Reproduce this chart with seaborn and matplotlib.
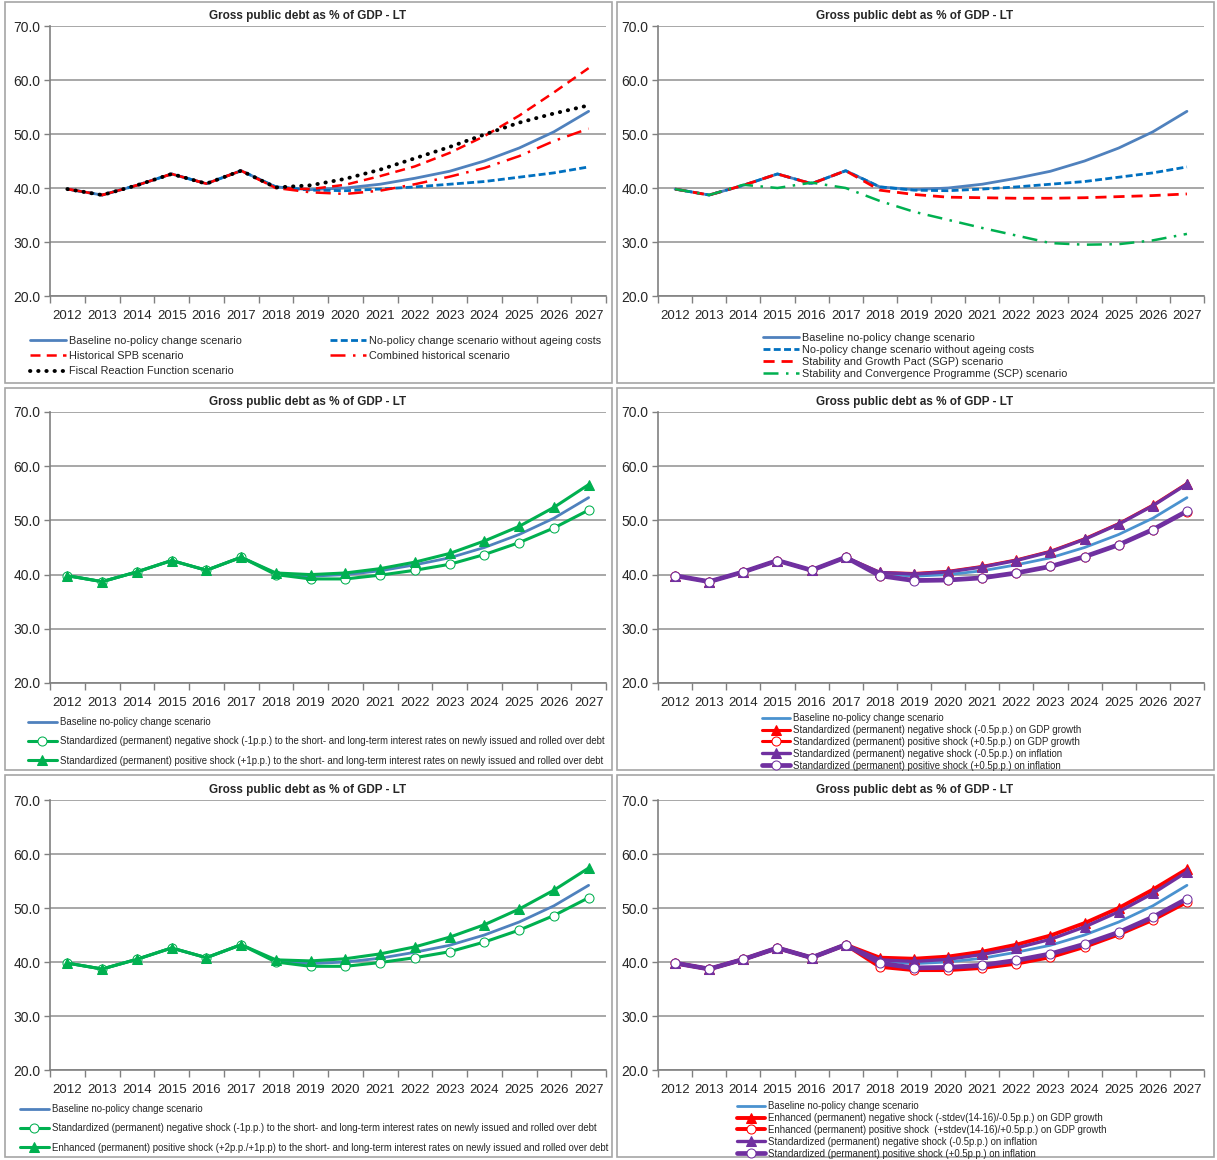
import numpy as np
import matplotlib
matplotlib.use("Agg")
import matplotlib.pyplot as plt
from matplotlib.patches import Rectangle
from matplotlib.ticker import FormatStrFormatter
import seaborn as sns

# %% data
years = list(range(2012, 2028))
title = "Gross public debt as % of GDP - LT"

history = [39.8, 38.7, 40.5, 42.6, 40.8, 43.2]
baseline = history + [40.2, 39.7, 40.0, 40.7, 41.8, 43.1, 45.0, 47.4, 50.4, 54.2]
no_ageing = history + [40.2, 39.6, 39.5, 39.8, 40.2, 40.7, 41.2, 42.0, 42.8, 43.9]
hist_spb = history + [40.0, 39.8, 40.6, 42.2, 44.0, 46.5, 49.6, 53.4, 57.7, 62.2]
combined = history + [40.0, 39.2, 38.9, 39.5, 40.7, 42.1, 43.7, 45.9, 48.7, 51.0]
frf = history + [40.1, 40.5, 41.7, 43.4, 45.5, 47.6, 49.9, 52.1, 53.8, 55.3]
sgp = history + [39.6, 38.8, 38.3, 38.2, 38.1, 38.1, 38.2, 38.4, 38.6, 38.9]
scp = [39.8, 38.7, 40.6, 40.0, 41.0, 40.0, 37.6, 35.6, 34.1, 32.6, 31.2, 29.8, 29.5, 29.6, 30.3, 31.5]

ir_neg = history + [40.0, 39.2, 39.2, 39.9, 40.8, 41.9, 43.7, 45.9, 48.6, 51.9]
ir_pos = history + [40.3, 40.0, 40.3, 41.1, 42.3, 43.9, 46.2, 48.9, 52.4, 56.6]
ir_pos_enh = history + [40.4, 40.2, 40.6, 41.5, 42.8, 44.6, 46.9, 49.8, 53.3, 57.4]

gdp_neg_std = history + [40.4, 40.2, 40.6, 41.5, 42.7, 44.3, 46.6, 49.4, 52.8, 56.8]
gdp_pos_std = history + [39.8, 39.0, 39.0, 39.4, 40.3, 41.5, 43.3, 45.5, 48.3, 51.6]
infl_neg = history + [40.4, 40.1, 40.5, 41.4, 42.6, 44.2, 46.5, 49.3, 52.7, 56.7]
infl_pos = history + [39.8, 38.9, 39.0, 39.4, 40.3, 41.5, 43.3, 45.5, 48.3, 51.7]
gdp_neg_enh = history + [40.8, 40.6, 41.0, 41.9, 43.2, 44.9, 47.2, 50.0, 53.4, 57.2]
gdp_pos_enh = history + [39.1, 38.5, 38.5, 38.9, 39.7, 40.9, 42.8, 45.1, 47.8, 51.1]

lbl_base = "Baseline no-policy change scenario"
lbl_noage = "No-policy change scenario without ageing costs"
lbl_spb = "Historical SPB scenario"
lbl_comb = "Combined historical scenario"
lbl_frf = "Fiscal Reaction Function scenario"
lbl_sgp = "Stability and Growth Pact (SGP) scenario"
lbl_scp = "Stability and Convergence Programme (SCP) scenario"
lbl_ir_neg = "Standardized (permanent) negative shock (-1p.p.) to the short- and long-term interest rates on newly issued and rolled over debt"
lbl_ir_pos = "Standardized (permanent) positive shock (+1p.p.) to the short- and long-term interest rates on newly issued and rolled over debt"
lbl_ir_enh = "Enhanced (permanent) positive shock (+2p.p./+1p.p) to the short- and long-term interest rates on newly issued and rolled over debt"
lbl_gdp_neg = "Standardized (permanent) negative shock (-0.5p.p.) on GDP growth"
lbl_gdp_pos = "Standardized (permanent) positive shock (+0.5p.p.) on GDP growth"
lbl_inf_neg = "Standardized (permanent) negative shock (-0.5p.p.) on inflation"
lbl_inf_pos = "Standardized (permanent) positive shock (+0.5p.p.) on inflation"
lbl_gdp_neg_enh = "Enhanced (permanent) negative shock (-stdev(14-16)/-0.5p.p.) on GDP growth"
lbl_gdp_pos_enh = "Enhanced (permanent) positive shock  (+stdev(14-16)/+0.5p.p.) on GDP growth"

BLUE = "#4F81BD"
BLUE2 = "#4A92CF"
DBLUE = "#0070C0"
RED = "#FF0000"
GREEN = "#00B050"
PURPLE = "#7030A0"

sns.set_theme(style="white")
plt.rcParams['font.family'] = ['Liberation Sans', 'DejaVu Sans']

W, H = 1217, 1160
fig = plt.figure(figsize=(W / 100, H / 100), dpi=100)


def fx(px):
    return px / W


def fy(py):
    return 1 - py / H


# panel frames
for x0, y0, x1, y1 in [(5, 2, 612, 383), (617, 2, 1214, 383),
                       (5, 388, 612, 770), (617, 388, 1214, 770),
                       (5, 775, 612, 1157), (617, 775, 1214, 1157)]:
    fig.patches.append(Rectangle((fx(x0), fy(y1)), (x1 - x0) / W, (y1 - y0) / H,
                                 transform=fig.transFigure, fill=False,
                                 edgecolor="#A6A6A6", lw=1.2))


def make_ax(x0, x1, y0, y1, title_x):
    ax = fig.add_axes([fx(x0), fy(y1), (x1 - x0) / W, (y1 - y0) / H])
    ax.set_xlim(2011.5, 2027.5)
    ax.set_ylim(20, 70)
    ax.set_yticks(range(20, 71, 10))
    ax.yaxis.set_major_formatter(FormatStrFormatter('%.1f'))
    ax.set_xticks(years)
    ax.set_xticks(np.arange(2011.5, 2028, 1), minor=True)
    ax.tick_params(axis='x', which='major', bottom=False, length=0, pad=10, labelsize=9.5)
    ax.tick_params(axis='x', which='minor', bottom=True, length=5, width=1, color='#808080')
    ax.tick_params(axis='y', left=True, length=4, width=1, color='#808080', labelsize=10, pad=3)
    ax.grid(axis='y', color='#A0A0A0', lw=1.3)
    ax.set_axisbelow(True)
    for s in ['top', 'right']:
        ax.spines[s].set_visible(False)
    for s in ['left', 'bottom']:
        ax.spines[s].set_color('#808080')
        ax.spines[s].set_linewidth(1.2)
    ax.set_xlabel('')
    ax.set_ylabel('')
    fig.text(fx(title_x), fy(y0 - 10), title, ha='center', va='center',
             fontweight='bold', fontsize=8.5)
    return ax


def draw(ax, vals, label, color, lw=1.8, ls='-', marker=None, ms=7, mfc=None, **kw):
    sns.lineplot(x=years, y=vals, ax=ax, color=color, linewidth=lw, linestyle=ls,
                 marker=marker, markersize=ms,
                 markerfacecolor=mfc if mfc else color, markeredgecolor=color,
                 label=label, legend=False, **kw)
    return ax.get_lines()[-1]


def add_legend(handles, x, y, fs, spacing, hl=2.8):
    fig.legend(handles=handles, labels=[h.get_label() for h in handles],
               loc='upper left', bbox_to_anchor=(fx(x), fy(y)),
               frameon=False, fontsize=fs, borderpad=0, borderaxespad=0,
               labelspacing=spacing, handlelength=hl, handletextpad=0.3,
               numpoints=1)


LX0, LX1 = 50, 606
RX0, RX1 = 658, 1204
rows = [(26, 296), (412, 683), (800, 1070)]
LT, RT = 308, 915

# %% panel 1
ax = make_ax(LX0, LX1, *rows[0], LT)
h_base = draw(ax, baseline, lbl_base, BLUE, lw=2)
h_noage = draw(ax, no_ageing, lbl_noage, DBLUE, lw=2, ls=(0, (2.5, 1.2)))
h_comb = draw(ax, combined, lbl_comb, RED, lw=1.8, ls=(0, (6, 3, 1, 3)))
h_spb = draw(ax, hist_spb, lbl_spb, RED, lw=1.8, ls=(0, (4, 2.5)))
h_frf = draw(ax, frf, lbl_frf, 'black', lw=2.8, ls=(0, (0.1, 2.0)), dash_capstyle='round')
add_legend([h_base, h_spb, h_frf], 30, 336, 7.8, 0.48, hl=3.3)
add_legend([h_noage, h_comb], 330, 336, 7.8, 0.48, hl=3.3)

# %% panel 2
ax = make_ax(RX0, RX1, *rows[0], RT)
h_base = draw(ax, baseline, lbl_base, BLUE, lw=2)
h_noage = draw(ax, no_ageing, lbl_noage, DBLUE, lw=2, ls=(0, (2.5, 1.2)))
h_sgp = draw(ax, sgp, lbl_sgp, RED, lw=2, ls=(0, (4, 2.5)))
h_scp = draw(ax, scp, lbl_scp, GREEN, lw=1.8, ls=(0, (6, 3, 1, 3)))
add_legend([h_base, h_noage, h_sgp, h_scp], 763, 333, 7.85, 0.19, hl=3.3)

# %% panel 3
ax = make_ax(LX0, LX1, *rows[1], LT)
h_base = draw(ax, baseline, lbl_base, BLUE, lw=2)
h_neg = draw(ax, ir_neg, lbl_ir_neg, GREEN, lw=2.2, marker='o', ms=6.5, mfc='white')
h_pos = draw(ax, ir_pos, lbl_ir_pos, GREEN, lw=2.2, marker='^', ms=7.5)
add_legend([h_base, h_neg, h_pos], 28, 717, 6.9, 0.98, hl=3.0)

# %% panel 4
ax = make_ax(RX0, RX1, *rows[1], RT)
h_base = draw(ax, baseline, lbl_base, BLUE2, lw=2)
h_gn = draw(ax, gdp_neg_std, lbl_gdp_neg, RED, lw=2.2, marker='^', ms=7.5)
h_gp = draw(ax, gdp_pos_std, lbl_gdp_pos, RED, lw=2.2, marker='o', ms=6.5, mfc='white')
h_in = draw(ax, infl_neg, lbl_inf_neg, PURPLE, lw=2.4, marker='^', ms=7.5)
h_ip = draw(ax, infl_pos, lbl_inf_pos, PURPLE, lw=3.4, marker='o', ms=6.5, mfc='white')
add_legend([h_base, h_gn, h_gp, h_in, h_ip], 762, 713, 6.9, 0.2, hl=2.9)

# %% panel 5
ax = make_ax(LX0, LX1, *rows[2], LT)
h_base = draw(ax, baseline, lbl_base, BLUE, lw=2)
h_neg = draw(ax, ir_neg, lbl_ir_neg, GREEN, lw=2.2, marker='o', ms=6.5, mfc='white')
h_pos = draw(ax, ir_pos_enh, lbl_ir_enh, GREEN, lw=2.2, marker='^', ms=7.5)
add_legend([h_base, h_neg, h_pos], 20, 1104, 6.9, 0.98, hl=3.0)

# %% panel 6
ax = make_ax(RX0, RX1, *rows[2], RT)
h_base = draw(ax, baseline, lbl_base, BLUE2, lw=2)
h_gn = draw(ax, gdp_neg_enh, lbl_gdp_neg_enh, RED, lw=2.8, marker='^', ms=7.5)
h_gp = draw(ax, gdp_pos_enh, lbl_gdp_pos_enh, RED, lw=2.8, marker='o', ms=6.5, mfc='white')
h_in = draw(ax, infl_neg, lbl_inf_neg, PURPLE, lw=2.4, marker='^', ms=7.5)
h_ip = draw(ax, infl_pos, lbl_inf_pos, PURPLE, lw=3.4, marker='o', ms=6.5, mfc='white')
add_legend([h_base, h_gn, h_gp, h_in, h_ip], 737, 1101, 6.9, 0.2, hl=2.9)

fig.savefig("out.png", dpi=100, facecolor='white')
